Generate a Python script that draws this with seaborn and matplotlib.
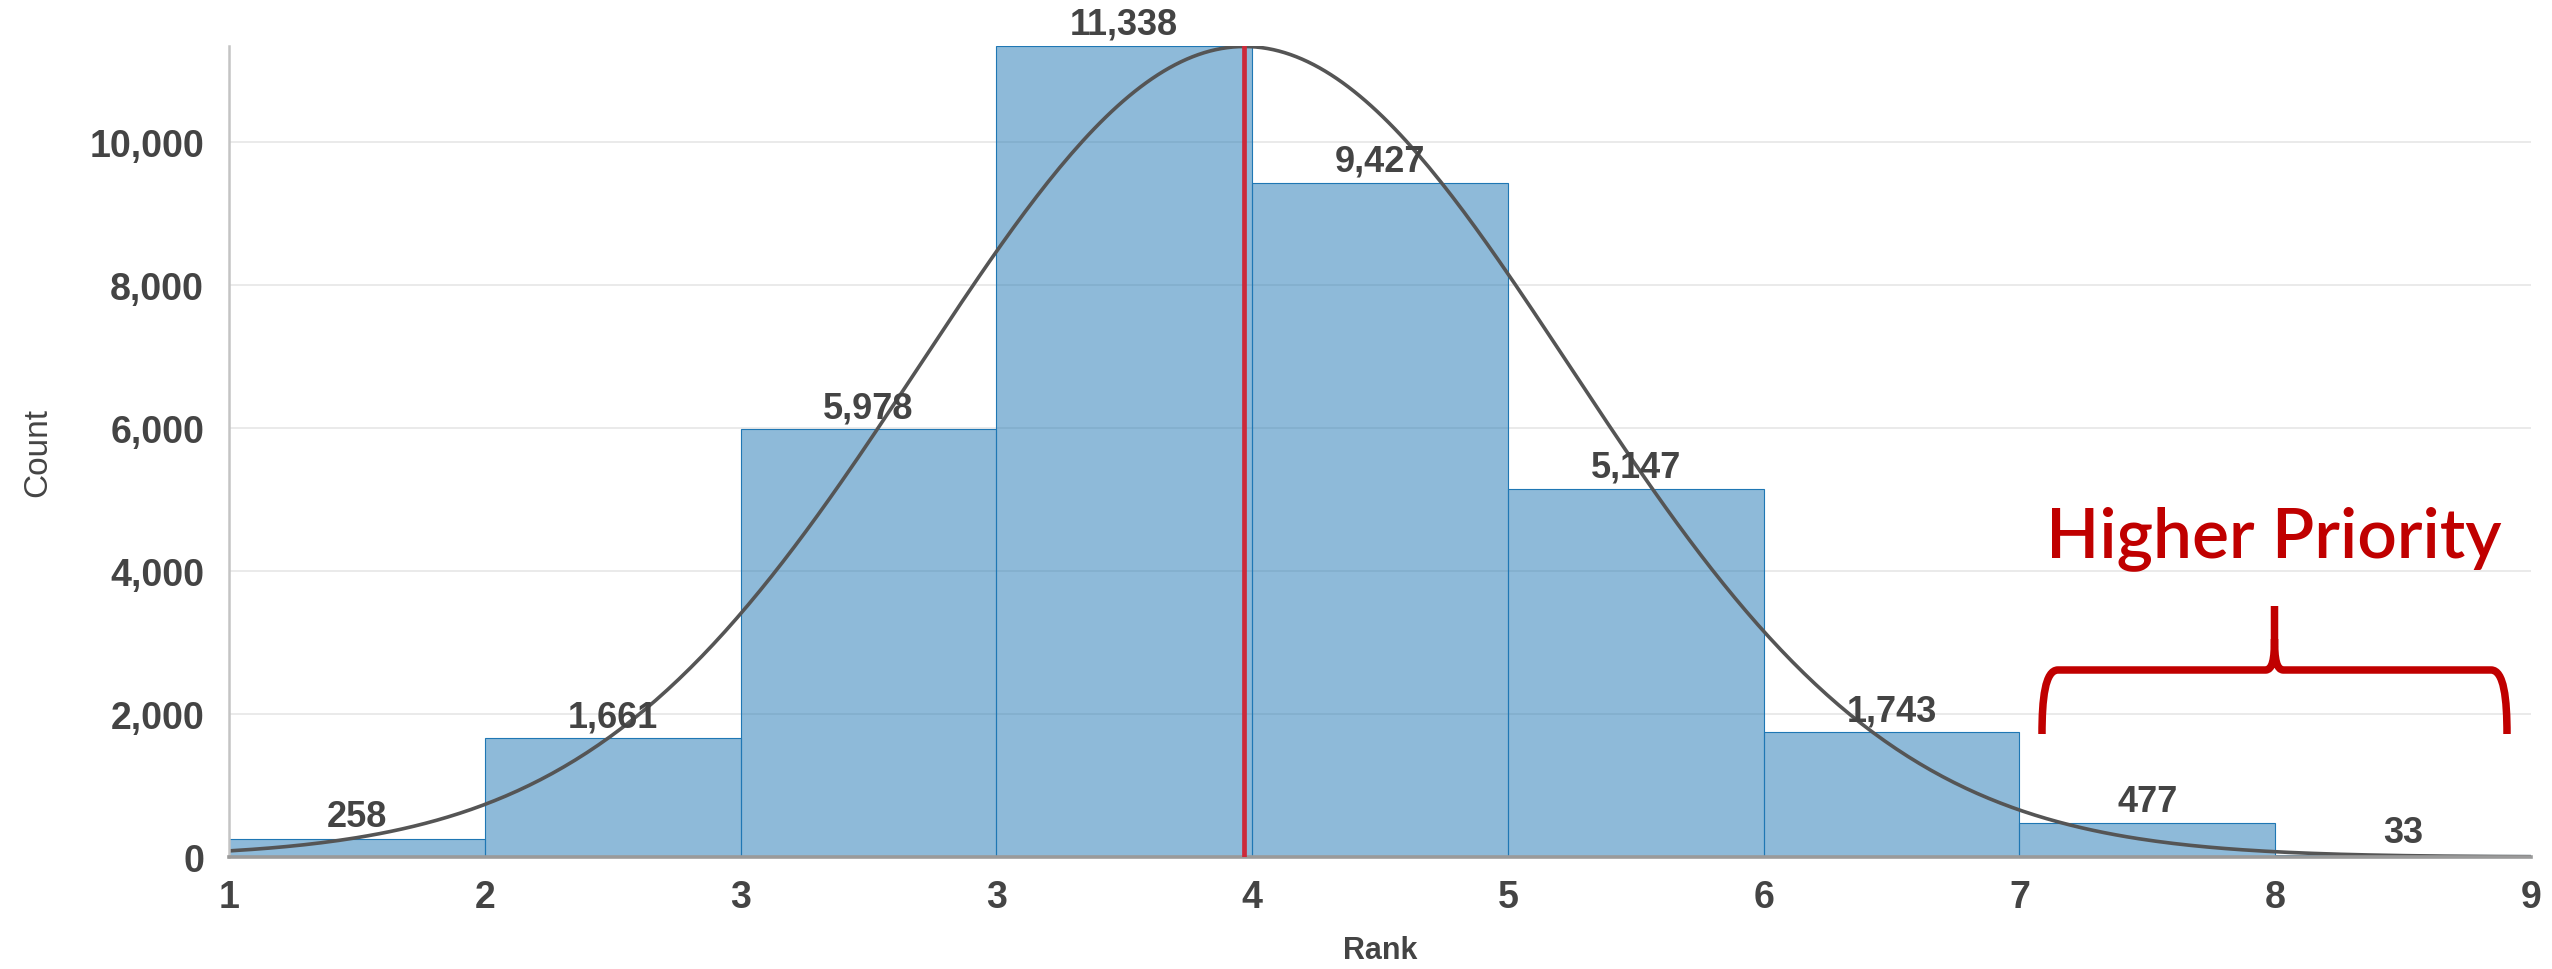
import numpy as np
import pandas as pd
import matplotlib
matplotlib.use("Agg")
import matplotlib.pyplot as plt
from matplotlib.path import Path
from matplotlib.patches import PathPatch
from matplotlib.ticker import FuncFormatter
import seaborn as sns

# data
tick_labels = ["1", "2", "3", "3", "4", "5", "6", "7", "8", "9"]
counts = [258, 1661, 5978, 11338, 9427, 5147, 1743, 477, 33]

sns.set_style("white")
plt.rcParams['font.family'] = ['Liberation Sans', 'DejaVu Sans']

W, H = 2552, 970
fig = plt.figure(figsize=(W / 100, H / 100), dpi=100)
ax = fig.add_axes([229 / W, 112 / H, (2531 - 229) / W, (858 - 47) / H])

nbins = len(counts)
edges = np.arange(nbins + 1)
centers = edges[:-1] + 0.5
df = pd.DataFrame({"bin": centers, "count": counts})

# gridlines under the bars
ax.set_axisbelow(True)
ax.yaxis.grid(True, color="#e6e6e6", linewidth=1.2)

sns.histplot(data=df, x="bin", weights="count", binwidth=1, binrange=(0, nbins),
             ax=ax, color="#1f77b4", alpha=0.5, edgecolor="#1f77b4", linewidth=0.8)

# normal curve fitted to the binned counts
total = df["count"].sum()
mean = (df["bin"] * df["count"]).sum() / total
var = (df["count"] * (df["bin"] - mean) ** 2).sum() / total - 1 / 12
sd = np.sqrt(var)
xs = np.linspace(0, nbins, 400)
ys = total * np.exp(-0.5 * ((xs - mean) / sd) ** 2) / (sd * np.sqrt(2 * np.pi))
sns.lineplot(x=xs, y=ys, ax=ax, color="#555555", linewidth=2.6)

ax.axvline(mean, color="#cc2a3a", linewidth=3.4, zorder=5)

# value labels
for x, c in zip(centers, counts):
    ax.annotate(f"{c:,}", (x, c), xytext=(0, 3), textcoords="offset points",
                ha="center", va="bottom", fontsize=26, fontweight="bold",
                color="#444444", annotation_clip=False)

ax.set_xlim(0, nbins)
ax.set_ylim(0, max(counts))
ax.set_xticks(edges)
ax.set_xticklabels(tick_labels)
ax.set_yticks(range(0, 10001, 2000))
ax.yaxis.set_major_formatter(FuncFormatter(lambda v, p: f"{int(v):,}"))
ax.tick_params(axis="both", labelsize=27, labelcolor="#444444", colors="#bbbbbb",
               length=10, width=1.5, direction="out")
ax.tick_params(axis="x", pad=6)
ax.tick_params(axis="y", pad=8)
for lab in ax.get_xticklabels() + ax.get_yticklabels():
    lab.set_fontweight("bold")
    lab.set_color("#444444")

ax.set_xlabel("Rank", fontsize=22, fontweight="bold", color="#444444", labelpad=14)
ax.set_ylabel("Count", fontsize=24, color="#444444", labelpad=26)

for s in ["top", "right"]:
    ax.spines[s].set_visible(False)
ax.spines["left"].set_color("#c4c4c4")
ax.spines["left"].set_linewidth(1.8)
ax.spines["bottom"].set_color("#9a9a9a")
ax.spines["bottom"].set_linewidth(2.6)

# "Higher Priority" note and brace
red = "#c00000"
fig.text(2274 / W, 1 - 557 / H, "Higher Priority", fontsize=50, color=red,
         family=["Lato", "DejaVu Sans"], fontweight="semibold",
         ha="center", va="baseline")

L, R, T = 2042, 2507, 2274.5
yb, yh, yt = 735, 671, 607
pts = [(L, yb), (L, 700), (L + 3, yh), (L + 16, yh),
       (T - 9, yh),
       (T - 2, yh), (T, 660), (T, 640),
       (T, yt),
       (T, 640),
       (T, 660), (T + 2, yh), (T + 9, yh),
       (R - 16, yh),
       (R - 3, yh), (R, 700), (R, yb)]
codes = [Path.MOVETO, Path.CURVE4, Path.CURVE4, Path.CURVE4,
         Path.LINETO,
         Path.CURVE4, Path.CURVE4, Path.CURVE4,
         Path.LINETO,
         Path.MOVETO,
         Path.CURVE4, Path.CURVE4, Path.CURVE4,
         Path.LINETO,
         Path.CURVE4, Path.CURVE4, Path.CURVE4]
brace = Path([(px / W, 1 - py / H) for px, py in pts], codes)
fig.patches.append(PathPatch(brace, transform=fig.transFigure, fill=False,
                             edgecolor=red, linewidth=5.4, capstyle="butt",
                             joinstyle="round"))

fig.savefig("out.png", dpi=100)
